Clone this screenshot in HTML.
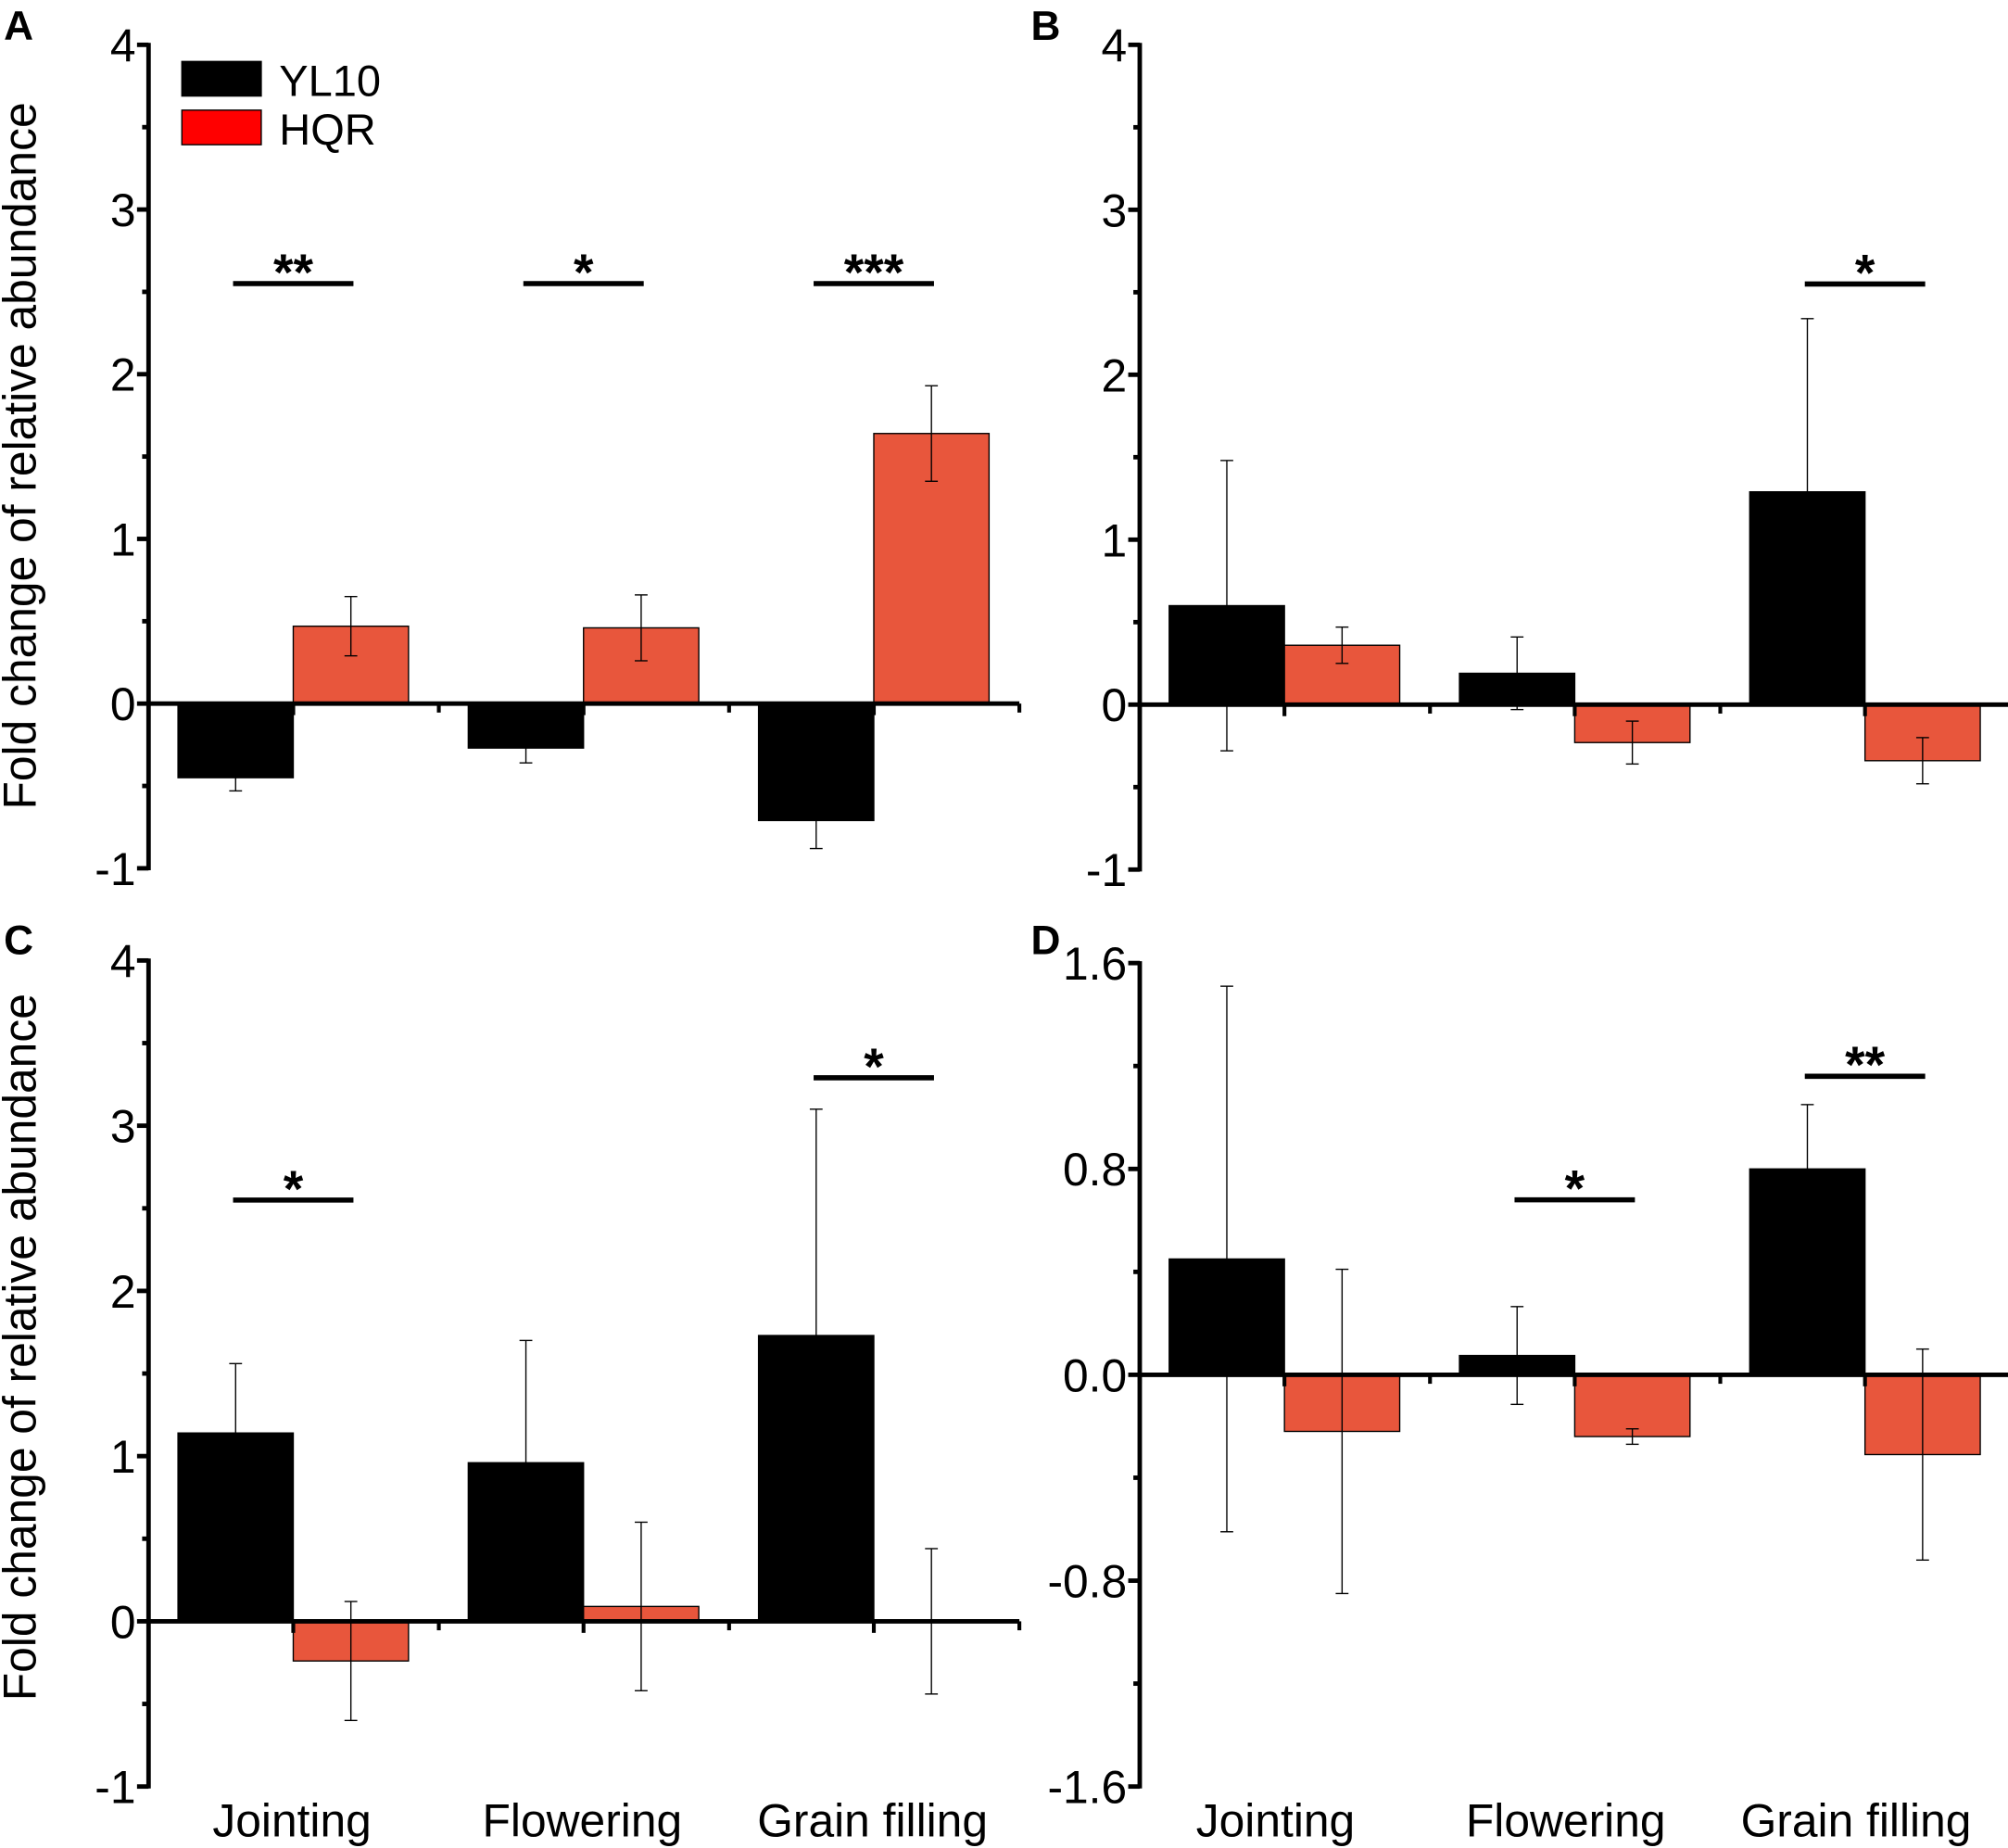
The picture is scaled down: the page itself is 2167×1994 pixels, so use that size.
<!DOCTYPE html>
<html><head><meta charset="utf-8"><style>
html,body{margin:0;padding:0;background:#fff;}
svg{display:block;}
text{font-family:"Liberation Sans",Arial,sans-serif;fill:#000;}
</style></head><body>
<svg id="fig" width="2167" height="1994" viewBox="0 0 1568 1443" preserveAspectRatio="none" xmlns="http://www.w3.org/2000/svg"></svg>
<script>
// ---- data ----
const categories = ["Jointing", "Flowering", "Grain filling"];
const seriesNames = ["YL10", "HQR"];
const aYL10 = [-0.45, -0.27, -0.71];
const aYL10Err = [0.08, 0.09, 0.17];
const aHQR = [0.47, 0.46, 1.64];
const aHQRErr = [0.18, 0.2, 0.29];
const bYL10 = [0.6, 0.19, 1.29];
const bYL10Err = [0.88, 0.22, 1.05];
const bHQR = [0.36, -0.23, -0.34];
const bHQRErr = [0.11, 0.13, 0.14];
const cYL10 = [1.14, 0.96, 1.73];
const cYL10Err = [0.42, 0.74, 1.37];
const cHQR = [-0.24, 0.09, 0.0];
const cHQRErr = [0.36, 0.51, 0.44];
const dYL10 = [0.45, 0.075, 0.8];
const dYL10Err = [1.06, 0.19, 0.25];
const dHQR = [-0.22, -0.24, -0.31];
const dHQRErr = [0.63, 0.03, 0.41];
const ticksAC = ["-1", "0", "1", "2", "3", "4"];
const ticksD = ["-1.6", "-0.8", "0.0", "0.8", "1.6"];
// significance: [category index, y value, label]
const sigA = [[0, 2.55, "**"], [1, 2.55, "*"], [2, 2.55, "***"]];
const sigB = [[2, 2.55, "*"]];
const sigC = [[0, 2.55, "*"], [2, 3.29, "*"]];
const sigD = [[1, 0.68, "*"], [2, 1.16, "**"]];

const NS = "http://www.w3.org/2000/svg";
const svg = document.getElementById("fig");
function mk(tag, attrs, parent) {
  const e = document.createElementNS(NS, tag);
  for (const k in attrs) e.setAttribute(k, attrs[k]);
  (parent || svg).appendChild(e);
  return e;
}

function panel(p) {
  const g = mk("g", {});
  
  
  const x0 = p.x, yTop = p.yTop, yBot = p.yBot;
  const xEnd = x0 + 680;
  const ys = v => yTop + (p.max - v) / (p.max - p.min) * (yBot - yTop);
  const groupW = (xEnd - x0) / 3;
  const barW = 90;
  const gc = i => x0 + groupW * i + 113;
  const sets = [[p.y1, p.e1, "#000000", "yl10"], [p.y2, p.e2, "#E8563C", "hqr"]];
  sets.forEach((s, si) => {
    s[0].forEach((v, i) => {
      const bx = si === 0 ? gc(i) - barW : gc(i);
      const top = Math.min(ys(v), ys(0)), h = Math.abs(ys(v) - ys(0));
      const r = mk("rect", {x: bx, y: top, width: barW, height: Math.max(h, 0.5), fill: s[2], stroke: "#000", "stroke-width": 1}, g);
      
      
      const cx = bx + barW / 2, e = s[1][i];
      const eg = mk("g", {stroke: "#000", "stroke-width": 1}, g);
      
      
      mk("line", {x1: cx, x2: cx, y1: ys(v + e), y2: ys(v - e)}, eg);
      mk("line", {x1: cx - 5, x2: cx + 5, y1: ys(v + e), y2: ys(v + e)}, eg);
      mk("line", {x1: cx - 5, x2: cx + 5, y1: ys(v - e), y2: ys(v - e)}, eg);
    });
  });
  const ya = mk("g", {}, g);
  
  
  mk("line", {x1: x0, x2: x0, y1: yTop - 1.5, y2: yBot + 1.5, stroke: "#000", "stroke-width": 3.5}, ya);
  p.ticks.forEach((t, i) => {
    const v = parseFloat(t);
    const y = ys(v);
    mk("line", {x1: x0 - 9, x2: x0, y1: y, y2: y, stroke: "#000", "stroke-width": 3.5}, ya);
    const tx = mk("text", {x: x0 - 10, y: y + 13, "text-anchor": "end", "font-size": 36}, ya);
    tx.textContent = t;
    
    
    if (i < p.ticks.length - 1) {
      const vm = (v + parseFloat(p.ticks[i + 1])) / 2;
      mk("line", {x1: x0 - 5, x2: x0, y1: ys(vm), y2: ys(vm), stroke: "#000", "stroke-width": 3.5}, ya);
    }
  });
  const xa = mk("g", {}, g);
  
  
  const y0 = ys(0);
  mk("line", {x1: x0, x2: xEnd, y1: y0, y2: y0, stroke: "#000", "stroke-width": 3.5}, xa);
  for (let i = 0; i <= 3; i++) {
    const xt = x0 + groupW * i;
    mk("line", {x1: xt, x2: xt, y1: y0, y2: y0 + 7, stroke: "#000", "stroke-width": 3}, xa);
    if (i < 3) mk("line", {x1: gc(i), x2: gc(i), y1: y0, y2: y0 + 9, stroke: "#000", "stroke-width": 3}, xa);
  }
  if (p.xlabels) {
    categories.forEach((c, i) => {
      const t = mk("text", {x: gc(i) - p.lblShift, y: 1434, "text-anchor": "middle", "font-size": 36}, g);
      t.textContent = c;
      
      
    });
  }
  p.sig.forEach(s => {
    const sg = mk("g", {}, g);
    
    
    const c = gc(s[0]), y = ys(s[1]);
    mk("line", {x1: c - 47, x2: c + 47, y1: y, y2: y, stroke: "#000", "stroke-width": 4}, sg);
    const t = mk("text", {x: c, y: y + 5, "text-anchor": "middle", "font-size": 40, "font-weight": "bold"}, sg);
    t.textContent = s[2];
  });
  const L = mk("text", {x: p.lx, y: p.ly, "font-size": 32, "font-weight": "bold"}, g);
  L.textContent = p.id;
  
  
}

panel({id: "A", x: 116, yTop: 35, yBot: 678, min: -1, max: 4, ticks: ticksAC, y1: aYL10, e1: aYL10Err, y2: aHQR, e2: aHQRErr, sig: sigA, lx: 3, ly: 31});
panel({id: "B", x: 890, yTop: 35, yBot: 679, min: -1, max: 4, ticks: ticksAC, y1: bYL10, e1: bYL10Err, y2: bHQR, e2: bHQRErr, sig: sigB, lx: 805, ly: 31});
panel({id: "C", x: 116, yTop: 750, yBot: 1395, min: -1, max: 4, ticks: ticksAC, y1: cYL10, e1: cYL10Err, y2: cHQR, e2: cHQRErr, sig: sigC, lx: 3, ly: 745, xlabels: true, lblShift: 1});
panel({id: "D", x: 890, yTop: 752, yBot: 1395, min: -1.6, max: 1.6, ticks: ticksD, y1: dYL10, e1: dYL10Err, y2: dHQR, e2: dHQRErr, sig: sigD, lx: 805, ly: 745, xlabels: true, lblShift: 7});

[[356, "y-axis-title-top"], [1052, "y-axis-title-bottom"]].forEach(a => {
  const t = mk("text", {x: 0, y: 0, "text-anchor": "middle", "font-size": 36, transform: "translate(28," + a[0] + ") rotate(-90)"});
  t.textContent = "Fold change of relative abundance";
  
  
});

const lg = mk("g", {});


const legColors = ["#000000", "#FF0000"];
seriesNames.forEach((n, i) => {
  const e = mk("g", {}, lg);
  
  
  mk("rect", {x: 142, y: 48 + i * 38, width: 62, height: 27, fill: legColors[i], stroke: "#000", "stroke-width": 1}, e);
  const t = mk("text", {x: 218, y: 75 + i * 38, "font-size": 34}, e);
  t.textContent = n;
});
</script>
</body></html>
